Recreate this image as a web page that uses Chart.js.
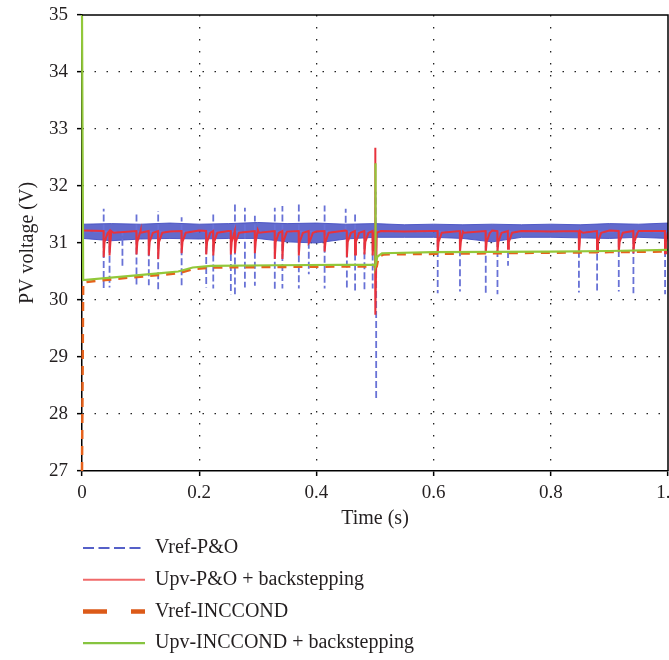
<!DOCTYPE html>
<html>
<head>
<meta charset="utf-8">
<script src="https://cdn.jsdelivr.net/npm/chart.js@4.4.1/dist/chart.umd.min.js"></script>
<style>
  html, body { margin: 0; padding: 0; background: #fff; }
</style>
</head>
<body>
<canvas id="grafica" width="669" height="660"></canvas>
<script>
// ejes
const ticksX = [0, 0.2, 0.4, 0.6, 0.8, 1];
const ticksY = [27, 28, 29, 30, 31, 32, 33, 34, 35];

// Vref-P&O: nivel medio y picos
const basePO = 31.2;
const tBajadasPO = [0.037, 0.047, 0.069, 0.093, 0.114, 0.130, 0.170, 0.212, 0.224, 0.254, 0.261, 0.278, 0.295, 0.329, 0.342, 0.370, 0.387, 0.414, 0.452, 0.466, 0.482, 0.496, 0.502, 0.607, 0.645, 0.689, 0.709, 0.727, 0.848, 0.879, 0.916, 0.941, 0.995];
const vBajadasPO = [30.18, 30.22, 30.6, 30.22, 30.26, 30.14, 30.26, 30.22, 30.2, 30.1, 30.1, 30.22, 30.25, 30.18, 30.2, 30.2, 30.45, 30.2, 30.2, 30.16, 30.18, 30.2, 28.28, 30.12, 30.15, 30.12, 30.1, 30.6, 30.13, 30.12, 30.15, 30.12, 30.1];
const tSubidasPO = [0.037, 0.093, 0.130, 0.170, 0.224, 0.261, 0.278, 0.295, 0.329, 0.342, 0.370, 0.414, 0.450, 0.466, 0.501];
const vSubidasPO = [31.6, 31.55, 31.56, 31.45, 31.5, 31.68, 31.62, 31.48, 31.62, 31.65, 31.68, 31.66, 31.6, 31.5, 31.9];

// banda de ruido de Vref-P&O (envolventes)
const tBanda = [0.002, 0.05, 0.1, 0.15, 0.2, 0.25, 0.3, 0.35, 0.4, 0.45, 0.5, 0.55, 0.6, 0.65, 0.7, 0.75, 0.8, 0.85, 0.9, 0.95, 1];
const bandaAlta = [31.33, 31.34, 31.33, 31.35, 31.33, 31.34, 31.36, 31.34, 31.35, 31.33, 31.34, 31.32, 31.33, 31.32, 31.33, 31.32, 31.33, 31.32, 31.34, 31.33, 31.35];
const bandaBaja = [31.08, 31.04, 31.07, 31.08, 31.07, 31.08, 31.08, 31.02, 31.0, 31.07, 31.1, 31.1, 31.1, 31.08, 31.02, 31.1, 31.1, 31.09, 31.08, 31.1, 31.08];

// Upv-P&O + backstepping
const mediaUpv = [31.22, 31.21, 31.22, 31.2, 31.22, 31.21, 31.23, 31.2, 31.2, 31.22, 31.21, 31.2, 31.21, 31.2, 31.22, 31.21, 31.2, 31.21, 31.22, 31.21, 31.2];
const tCaidasUpv = [0.037, 0.047, 0.093, 0.114, 0.130, 0.170, 0.212, 0.224, 0.254, 0.261, 0.295, 0.329, 0.342, 0.370, 0.387, 0.414, 0.452, 0.466, 0.482, 0.496, 0.607, 0.645, 0.689, 0.709, 0.727, 0.848, 0.879, 0.916, 0.941, 0.995];
const vCaidasUpv = [30.75, 30.78, 30.8, 30.78, 30.72, 30.82, 30.8, 30.78, 30.8, 30.82, 30.82, 30.72, 30.72, 30.78, 31.0, 30.85, 30.75, 30.8, 30.8, 30.78, 30.82, 30.84, 30.82, 30.84, 30.9, 30.82, 30.84, 30.84, 30.82, 30.82];
const tTransitorioUpv = [0.5, 0.5005, 0.5012, 0.503, 0.51];
const vTransitorioUpv = [31.21, 32.67, 29.74, 31.2, 31.21];

// Vref-INCCOND
const tInc = [0, 0.002, 0.078, 0.135, 0.164, 0.189, 0.22, 0.33, 0.5, 0.503, 0.506, 0.515, 0.6, 0.8, 0.9, 1];
const vInc = [27, 30.31, 30.39, 30.44, 30.47, 30.54, 30.57, 30.58, 30.59, 30.59, 30.76, 30.8, 30.81, 30.83, 30.84, 30.85];

// Upv-INCCOND + backstepping
const tUpvInc = [0, 0.002, 0.078, 0.135, 0.164, 0.189, 0.22, 0.33, 0.5, 0.5006, 0.5012, 0.504, 0.512, 0.6, 0.8, 0.9, 1];
const vUpvInc = [35, 30.35, 30.42, 30.47, 30.5, 30.57, 30.6, 30.61, 30.62, 32.4, 30.62, 30.76, 30.82, 30.84, 30.85, 30.86, 30.88];

const xy = (ts, vs) => ts.map((t, i) => ({ x: t, y: vs[i] }));

// picos verticales: se baja una sola vez y se corta el trazo (para que se vea el guion)
const puntosPO = [];
const picosPO = xy(tBajadasPO, vBajadasPO).concat(xy(tSubidasPO, vSubidasPO)).sort((a, b) => a.x - b.x);
puntosPO.push({ x: 0.002, y: basePO });
picosPO.forEach(p => {
  puntosPO.push({ x: p.x, y: basePO }, { x: p.x, y: p.y }, { x: p.x, y: null }, { x: p.x, y: basePO });
});
puntosPO.push({ x: 1, y: basePO });

// caidas casi verticales de Upv con cola corta
const puntosUpv = xy(tBanda, mediaUpv).concat(xy(tTransitorioUpv, vTransitorioUpv));
tCaidasUpv.forEach((t, i) => {
  puntosUpv.push({ x: t - 0.0003, y: 31.21 }, { x: t, y: vCaidasUpv[i] }, { x: t + 0.0015, y: 31.02 }, { x: t + 0.007, y: 31.18 });
});
puntosUpv.sort((a, b) => a.x - b.x);

const marcoYLeyenda = {
  id: 'marcoYLeyenda',
  afterDraw(chart) {
    const { ctx, chartArea: a } = chart;
    ctx.save();
    ctx.strokeStyle = '#000';
    ctx.lineWidth = 1.5;
    ctx.setLineDash([]);
    ctx.beginPath();
    ctx.moveTo(a.left, a.top);
    ctx.lineTo(a.right, a.top);
    ctx.lineTo(a.right, a.bottom);
    ctx.stroke();

    // leyenda en columna, debajo del eje
    let y = a.bottom + 77;
    chart.data.datasets.filter(d => d.enLeyenda !== false).forEach(d => {
      ctx.strokeStyle = d.colorLeyenda || d.borderColor;
      ctx.lineWidth = d.anchoLeyenda || d.borderWidth;
      ctx.setLineDash(d.guionLeyenda || []);
      ctx.beginPath();
      ctx.moveTo(a.left + 1, y);
      ctx.lineTo(a.left + 63, y);
      ctx.stroke();
      ctx.setLineDash([]);
      ctx.fillStyle = '#231f20';
      ctx.font = '20px "Liberation Serif"';
      ctx.textBaseline = 'middle';
      ctx.fillText(d.label, a.left + 73, y);
      y += 31.7;
    });
    ctx.restore();
  }
};

const borde = c => (c.tick.value === c.scale.min || c.tick.value === c.scale.max) ? 'rgba(0,0,0,0)' : '#222';
const fuente = { family: 'Liberation Serif', size: 19 };

new Chart(document.getElementById('grafica'), {
  type: 'line',
  data: {
    datasets: [
      {
        label: 'Vref-P&O',
        data: puntosPO,
        borderColor: '#6872d6',
        borderWidth: 1.8,
        borderDash: [7, 3],
        spanGaps: false,
        guionLeyenda: [11, 4.5],
        colorLeyenda: '#5560c8',
        anchoLeyenda: 2,
        order: 3
      },
      {
        label: 'Upv-P&O + backstepping',
        data: puntosUpv,
        borderColor: '#e8323c',
        borderWidth: 2,
        colorLeyenda: '#f06a6a',
        order: 2
      },
      {
        label: 'Vref-INCCOND',
        data: xy(tInc, vInc),
        borderColor: '#e6621c',
        borderWidth: 2.5,
        borderDash: [9, 7],
        guionLeyenda: [24, 24],
        anchoLeyenda: 4.5,
        colorLeyenda: '#dc5a18',
        clip: 4,
        order: 1
      },
      {
        label: 'Upv-INCCOND + backstepping',
        data: xy(tUpvInc, vUpvInc),
        borderColor: '#92c83a',
        borderWidth: 2.2,
        colorLeyenda: '#86c440',
        clip: 4,
        order: 0
      },
      {
        label: 'banda alta',
        data: xy(tBanda, bandaAlta),
        borderColor: 'rgba(70,80,195,0.9)',
        borderWidth: 1,
        backgroundColor: 'rgba(70,80,195,0.85)',
        fill: '+1',
        enLeyenda: false,
        order: 4
      },
      {
        label: 'banda baja',
        data: xy(tBanda, bandaBaja),
        borderColor: 'rgba(70,80,195,0.9)',
        borderWidth: 1,
        enLeyenda: false,
        order: 5
      }
    ]
  },
  options: {
    responsive: false,
    animation: false,
    devicePixelRatio: 1,
    elements: { point: { radius: 0 }, line: { tension: 0 } },
    layout: { padding: { top: 15, right: 1, left: 0, bottom: 129 } },
    plugins: { legend: { display: false }, tooltip: { enabled: false } },
    scales: {
      x: {
        type: 'linear',
        min: 0,
        max: 1,
        afterBuildTicks: s => { s.ticks = ticksX.map(v => ({ value: v })); },
        afterFit: s => { s.height = 60; s.paddingLeft = 0; s.paddingRight = 0; },
        ticks: { font: fuente, color: '#231f20', padding: 6, maxRotation: 0 },
        grid: { color: borde, lineWidth: 1.3, tickColor: '#000', tickBorderDash: [], tickLength: 5, tickWidth: 1.5 },
        border: { display: true, color: '#000', width: 1.5, dash: [1.5, 10.5] },
        title: { display: true, text: 'Time (s)', font: { family: 'Liberation Serif', size: 20 }, color: '#231f20', padding: { top: 0, bottom: 0 } }
      },
      y: {
        min: 27,
        max: 35,
        afterBuildTicks: s => { s.ticks = ticksY.map(v => ({ value: v })); },
        afterFit: s => { s.width = 82; s.paddingTop = 0; s.paddingBottom = 0; },
        ticks: { font: fuente, color: '#231f20', padding: 9 },
        grid: { color: borde, lineWidth: 1.3, tickColor: '#000', tickBorderDash: [], tickLength: 5, tickWidth: 1.5 },
        border: { display: true, color: '#000', width: 1.5, dash: [1.5, 10.5] },
        title: { display: true, text: 'PV voltage (V)', font: { family: 'Liberation Serif', size: 20 }, color: '#231f20', padding: { top: 16, bottom: 0 } }
      }
    }
  },
  plugins: [marcoYLeyenda]
});
</script>
</body>
</html>
